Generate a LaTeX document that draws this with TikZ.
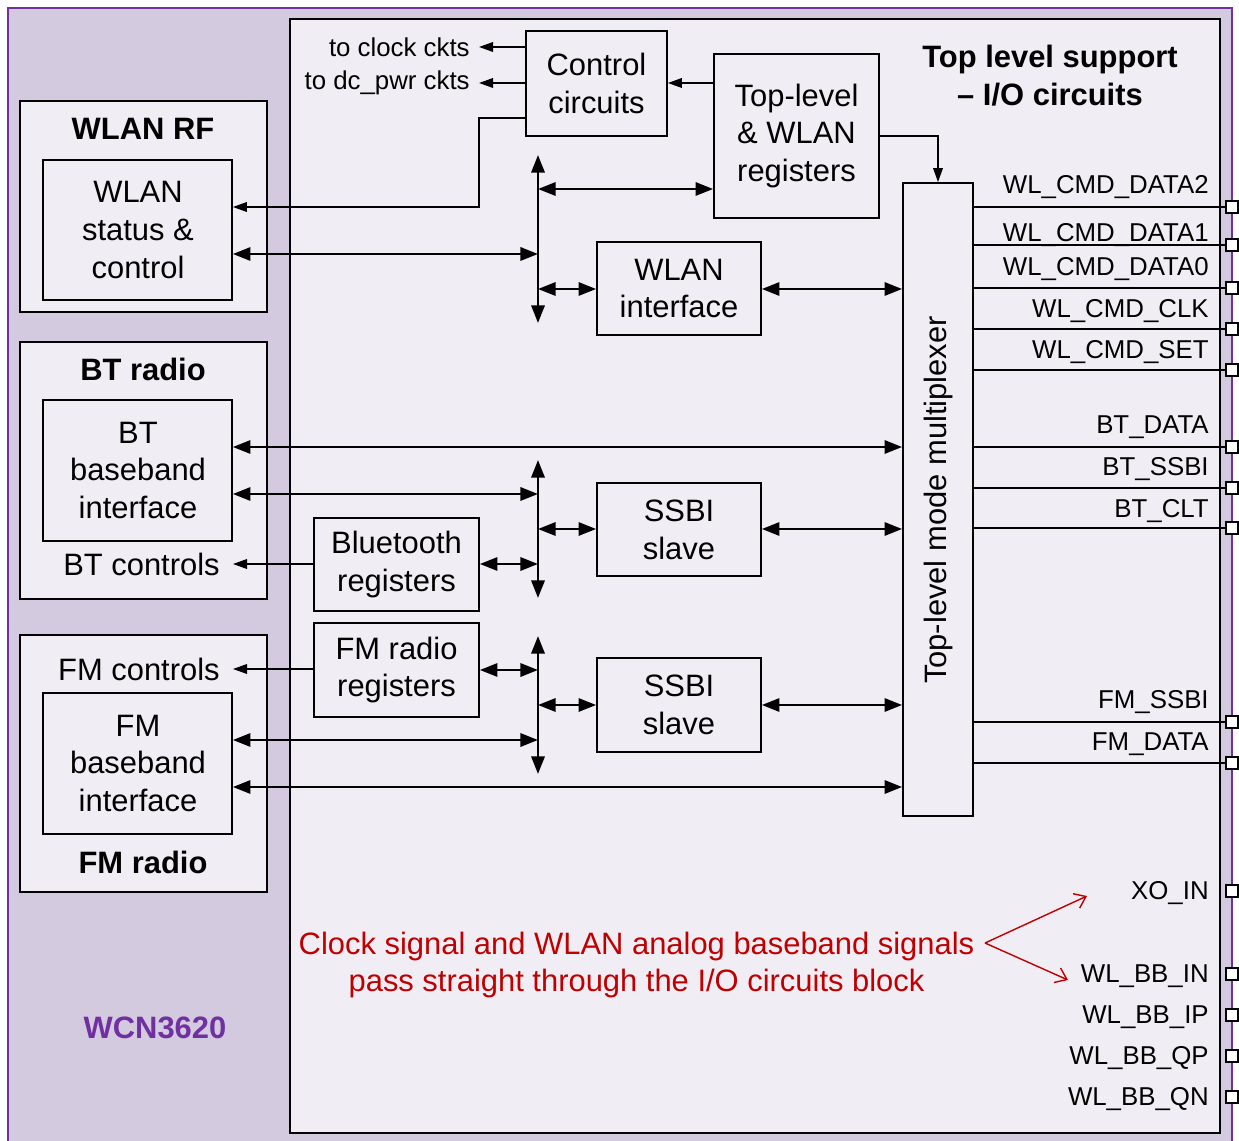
\documentclass[tikz,border=0pt]{standalone}
\usepackage{fontspec}
\setmainfont{Liberation Sans}
\usetikzlibrary{arrows.meta,fit}
\definecolor{lav}{RGB}{211,202,224}
\definecolor{pale}{RGB}{240,238,244}
\definecolor{purp}{RGB}{112,48,160}
\definecolor{dred}{RGB}{192,0,0}
\newcommand\mfont{\fontsize{17.6}{21.6}\selectfont}
\newcommand\pfont{\fontsize{14.7}{18}\selectfont}
\begin{document}
\begin{tikzpicture}[x=0.02cm,y=-0.02cm,
  frame/.style={draw, inner sep=0pt, line width=1pt},
  blk/.style={draw, fill=pale, inner sep=0pt, line width=1pt},
  ttl/.style={font=\mfont\bfseries, inner sep=0pt, align=center},
  txt/.style={font=\mfont, inner sep=0pt, align=center},
  lbl/.style={font=\pfont, inner sep=0pt, anchor=east},
  sq/.style={draw, fill=white, line width=0.9pt, minimum size=0.23cm, inner sep=0pt},
  thk/.style={line width=1.5pt, {Triangle[length=10pt,width=7.5pt]}-{Triangle[length=10pt,width=7.5pt]}},
  thn/.style={line width=0.85pt, -{Triangle[length=8pt,width=5.5pt]}},
  wire/.style={line width=0.85pt},
  redarr/.style={draw=dred, line width=0.8pt, -{Straight Barb[length=6pt,width=9pt]}}]
\useasboundingbox (0,0) rectangle (1239,1141);
% chip and I/O block
\node[frame, fill=lav, draw=purp, line width=1.5pt, fit={(8,8) (1232,1145)}] (chip) {};
\node[frame, fill=pale, fit={(290,19) (1220,1133)}] (io) {};
% left radios
\node[blk, fit={(20,101) (267,312)}] (wrf) {};
\node[ttl] (wrft) at (143,129) {WLAN RF};
\node[blk, fit={(43,160) (232,300)}] (wsc) {};
\node[txt] (wsct) at (138,230) {WLAN\\status \&\\control};
\node[blk, fit={(20,342) (267,599)}] (btr) {};
\node[ttl] (btrt) at (143,369) {BT radio};
\node[blk, fit={(43,400) (232,541)}] (btb) {};
\node[txt] (btbt) at (138,470.5) {BT\\baseband\\interface};
\node[txt, anchor=east, inner xsep=0.26cm] (btc) at (233,564) {BT controls};
\node[blk, fit={(20,635) (267,892)}] (fmr) {};
\node[txt, anchor=east, inner xsep=0.26cm] (fmc) at (233,669) {FM controls};
\node[blk, fit={(43,693) (232,834)}] (fmb) {};
\node[txt] (fmbt) at (138,763.5) {FM\\baseband\\interface};
\node[ttl] (fmrt) at (143,862) {FM radio};
% inner blocks
\node[blk, fit={(526,31) (667,136)}] (cc) {};
\node[txt] (cct) at (cc.center) {Control\\circuits};
\node[blk, fit={(714,54) (879,218)}] (tlr) {};
\node[txt] (tlrt) at (tlr.center) {Top-level\\\& WLAN\\registers};
\node[blk, fit={(597,242) (761,335)}] (wif) {};
\node[txt] (wift) at (wif.center) {WLAN\\interface};
\node[blk, fit={(597,483) (761,576)}] (ss1) {};
\node[txt] (ss1t) at (ss1.center) {SSBI\\slave};
\node[blk, fit={(597,658) (761,752)}] (ss2) {};
\node[txt] (ss2t) at (ss2.center) {SSBI\\slave};
\node[blk, fit={(314,518) (479,611)}] (btreg) {};
\node[txt] (btregt) at (btreg.center) {Bluetooth\\registers};
\node[blk, fit={(314,623) (479,717)}] (fmreg) {};
\node[txt] (fmregt) at (fmreg.center) {FM radio\\registers};
\node[blk, fit={(903,183) (973,816)}] (mux) {};
\node[txt, rotate=90] (muxt) at (938,500) {Top-level mode multiplexer};
\node[ttl] (iot) at (1050,76) {Top level support\\– I/O circuits};
\node[ttl, text=purp] (wcn) at (155,1028) {WCN3620};
% small text labels at top
\node[font=\pfont, anchor=east, inner ysep=0pt, inner xsep=0.18cm] (tclk) at (479,47) {to clock ckts};
\node[font=\pfont, anchor=east, inner ysep=0pt, inner xsep=0.18cm] (tpwr) at (479,83) {to dc\_pwr ckts};
% buses
\coordinate (b1t) at (538,155); \coordinate (b1b) at (538,323);
\coordinate (b2t) at (538,460); \coordinate (b2b) at (538,598);
\coordinate (b3t) at (538,636); \coordinate (b3b) at (538,774);
\draw[thk] (b1t) -- (b1b);
\draw[thk] (b2t) -- (b2b);
\draw[thk] (b3t) -- (b3b);
% thin connectors
\draw[thn] (cc.west |- tclk) -- (tclk.east);
\draw[thn] (cc.west |- tpwr) -- (tpwr.east);
\draw[thn] (tlr.west |- 0,83) -- (cc.east |- 0,83);
\draw[thn] (cc.west |- 0,118) -- (479,118) |- (wsc.east |- 0,207);
\draw[thn] (tlr.east |- 0,136) -| (mux.north);
\draw[thn] (btreg.west |- btc) -- (btc.east);
\draw[thn] (fmreg.west |- fmc) -- (fmc.east);
% thick connectors
\draw[thk] (b1t |- 0,189) -- (tlr.west |- 0,189);
\draw[thk] (wsc.east |- 0,254) -- (b1t |- 0,254);
\draw[thk] (b1t |- 0,289) -- (wif.west |- 0,289);
\draw[thk] (wif.east |- 0,289) -- (mux.west |- 0,289);
\draw[thk] (btb.east |- 0,447) -- (mux.west |- 0,447);
\draw[thk] (btb.east |- 0,494) -- (b2t |- 0,494);
\draw[thk] (b2t |- 0,529) -- (ss1.west |- 0,529);
\draw[thk] (ss1.east |- 0,529) -- (mux.west |- 0,529);
\draw[thk] (btreg.east |- 0,564) -- (b2t |- 0,564);
\draw[thk] (fmreg.east |- 0,670) -- (b3t |- 0,670);
\draw[thk] (b3t |- 0,705) -- (ss2.west |- 0,705);
\draw[thk] (ss2.east |- 0,705) -- (mux.west |- 0,705);
\draw[thk] (fmb.east |- 0,740) -- (b3t |- 0,740);
\draw[thk] (fmb.east |- 0,787) -- (mux.west |- 0,787);
% pins
\node[sq] (p1) at (1232,207) {};
\node[sq] (p2) at (1232,245) {};
\node[sq] (p3) at (1232,288) {};
\node[sq] (p4) at (1232,329) {};
\node[sq] (p5) at (1232,370) {};
\node[sq] (p6) at (1232,447) {};
\node[sq] (p7) at (1232,488) {};
\node[sq] (p8) at (1232,528) {};
\node[sq] (p9) at (1232,722) {};
\node[sq] (p10) at (1232,763) {};
\foreach \p in {p1,p2,p3,p4,p5,p6,p7,p8,p9,p10}
  \draw[wire] (mux.east |- \p) -- (\p.west);
\node[sq] (q1) at (1232,891) {};
\node[sq] (q2) at (1232,974) {};
\node[sq] (q3) at (1232,1015) {};
\node[sq] (q4) at (1232,1056) {};
\node[sq] (q5) at (1232,1097) {};
\node[lbl] (l1) at (1209,187) {WL\_CMD\_DATA2};
\node[lbl] (l2) at (1209,235) {WL\_CMD\_DATA1};
\node[lbl] (l3) at (1209,269) {WL\_CMD\_DATA0};
\node[lbl] (l4) at (1209,311) {WL\_CMD\_CLK};
\node[lbl] (l5) at (1209,352) {WL\_CMD\_SET};
\node[lbl] (l6) at (1209,427) {BT\_DATA};
\node[lbl] (l7) at (1209,469) {BT\_SSBI};
\node[lbl] (l8) at (1209,511) {BT\_CLT};
\node[lbl] (l9) at (1209,702) {FM\_SSBI};
\node[lbl] (l10) at (1209,744) {FM\_DATA};
\node[lbl] (m1) at (1209,893) {XO\_IN};
\node[lbl] (m2) at (1209,976) {WL\_BB\_IN};
\node[lbl] (m3) at (1209,1017) {WL\_BB\_IP};
\node[lbl] (m4) at (1209,1058) {WL\_BB\_QP};
\node[lbl] (m5) at (1209,1099) {WL\_BB\_QN};
% red note
\node[txt, text=dred] (note) at (636.5,965) {Clock signal and WLAN analog baseband signals\\pass straight through the I/O circuits block};
\coordinate (fork) at (985,943);
\coordinate (xotip) at (1087,896);
\coordinate (bbtip) at (1068,980);
\draw[redarr] (fork) -- (xotip);
\draw[redarr] (fork) -- (bbtip);
\end{tikzpicture}
\end{document}
